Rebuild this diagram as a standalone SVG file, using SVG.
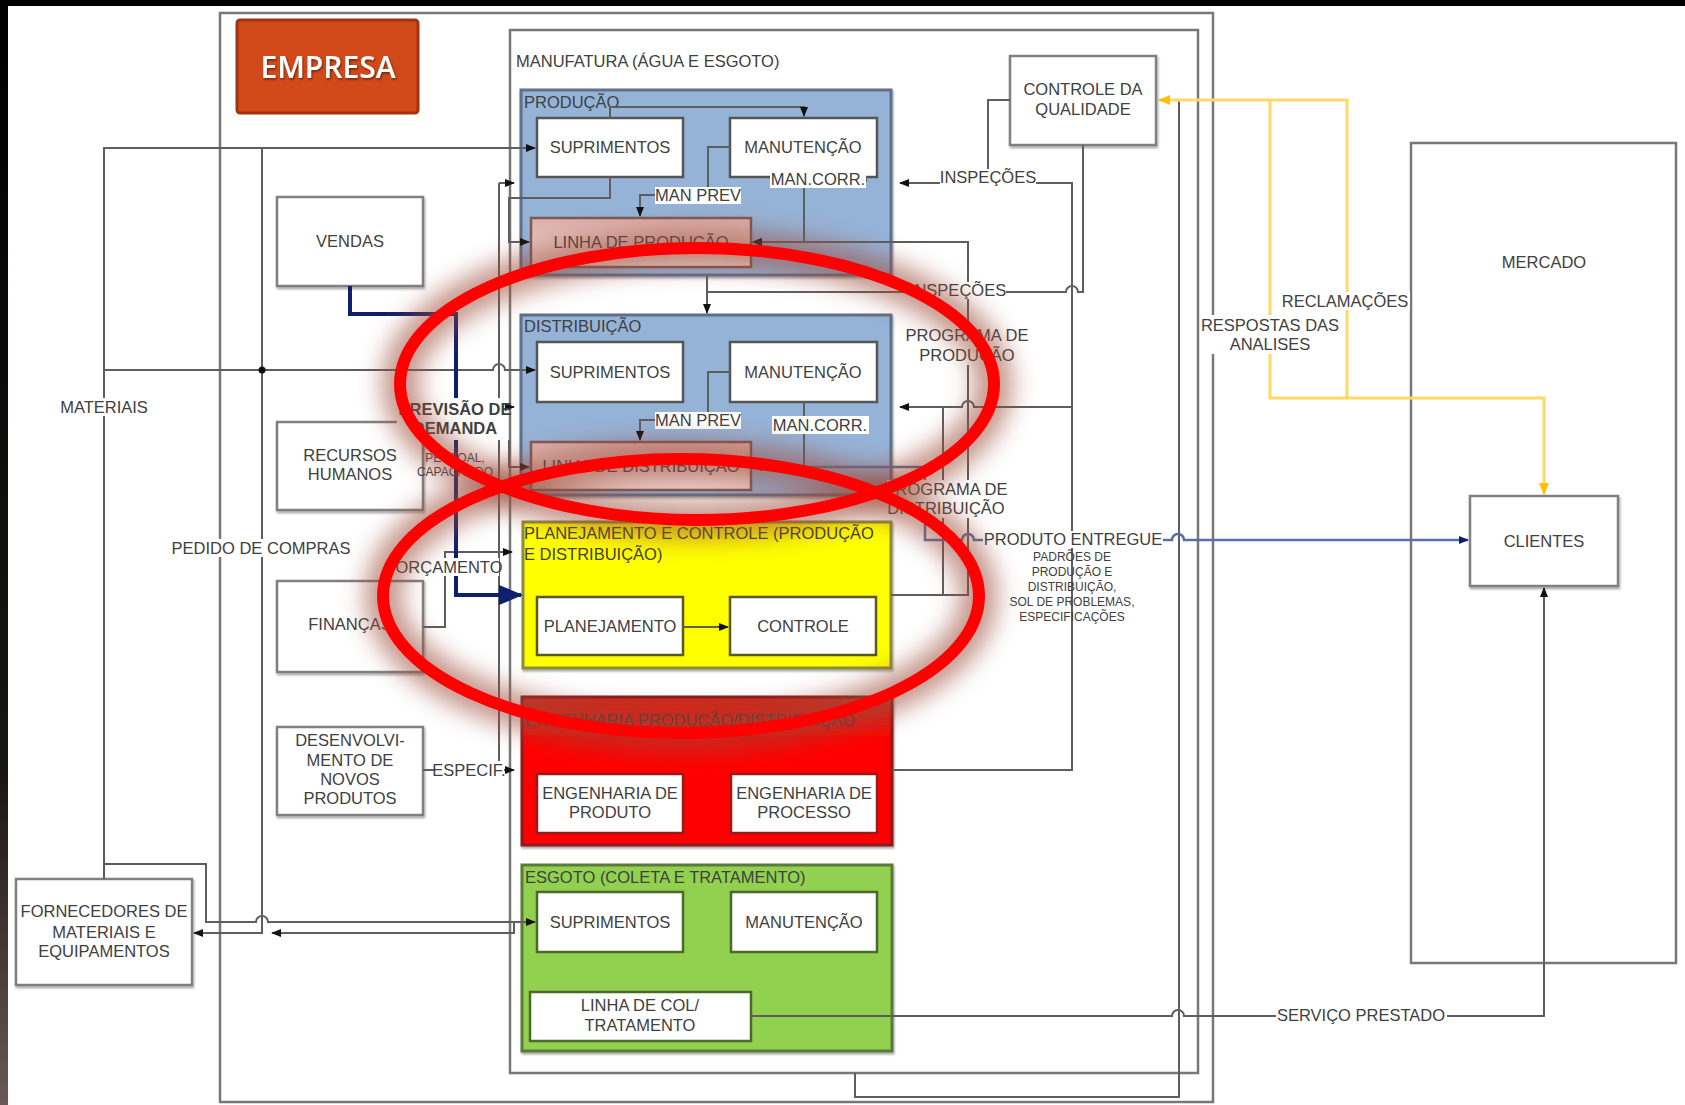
<svg xmlns="http://www.w3.org/2000/svg" width="1685" height="1105" viewBox="0 0 1685 1105">
<defs>
<style>
.t{font-family:"Liberation Sans",Arial,sans-serif;font-size:16.5px;fill:#404040}
.m{text-anchor:middle}
.s{font-size:12px}
.box{fill:#fff;stroke:#808080;stroke-width:2.5}
.frame{fill:none;stroke:#777;stroke-width:2.5}
.c{fill:none;stroke:#5e5e5e;stroke-width:2}
.bg{fill:#fff}
.ell{fill:none;stroke:#ff0000;stroke-width:12}
.glow{fill:none;stroke:#9b4a38;stroke-width:36;opacity:0.6}
</style>
<marker id="ah" markerUnits="userSpaceOnUse" markerWidth="10" markerHeight="10" refX="9" refY="5" orient="auto"><path d="M0,1 L10,5 L0,9 z" fill="#111"/></marker>
<marker id="ay" markerUnits="userSpaceOnUse" markerWidth="12" markerHeight="12" refX="11" refY="6" orient="auto"><path d="M0,1 L12,6 L0,11 z" fill="#ffc000"/></marker>
<marker id="an" markerUnits="userSpaceOnUse" markerWidth="10" markerHeight="10" refX="9" refY="5" orient="auto"><path d="M0,1 L10,5 L0,9 z" fill="#0e1f6b"/></marker>
<marker id="anb" markerUnits="userSpaceOnUse" markerWidth="24" markerHeight="24" refX="22" refY="12" orient="auto"><path d="M0,2 L24,12 L0,22 z" fill="#0e1f6b"/></marker>
<filter id="sh" x="-5%" y="-5%" width="110%" height="115%"><feDropShadow dx="1" dy="2" stdDeviation="1" flood-color="#000" flood-opacity="0.35"/></filter>
<filter id="blur" x="-20%" y="-30%" width="140%" height="160%"><feGaussianBlur stdDeviation="12"/></filter>
<filter id="tsh"><feDropShadow dx="1" dy="1.5" stdDeviation="1" flood-color="#000" flood-opacity="0.5"/></filter>
<linearGradient id="pink" x1="0" y1="0" x2="0" y2="1"><stop offset="0" stop-color="#dcaea8"/><stop offset="1" stop-color="#f2dcd8"/></linearGradient>
<linearGradient id="red" x1="0" y1="0" x2="0" y2="1"><stop offset="0" stop-color="#c8301e"/><stop offset="0.3" stop-color="#ff0000"/><stop offset="1" stop-color="#ff0000"/></linearGradient>
<linearGradient id="lft" x1="0" y1="0" x2="0" y2="1"><stop offset="0" stop-color="#000"/><stop offset="0.7" stop-color="#1a1515"/><stop offset="1" stop-color="#6a5855"/></linearGradient>
</defs>
<rect x="0" y="0" width="1685" height="1105" fill="#fff"/>
<rect x="0" y="0" width="1685" height="6" fill="#000"/>
<rect x="0" y="0" width="8" height="1105" fill="url(#lft)"/>

<!-- frames -->
<g id="empresa-frame"><rect class="frame" x="220" y="13" width="993" height="1089" stroke-width="3"/></g>
<g id="manufatura"><rect class="frame" x="510" y="30" width="688" height="1043" stroke="#8a8a8a"/>
<text class="t" x="516" y="67">MANUFATURA (ÁGUA E ESGOTO)</text></g>
<g id="mercado"><rect class="frame" x="1411" y="143" width="265" height="820" stroke="#707070"/>
<text class="t m" x="1544" y="268">MERCADO</text></g>

<g id="empresa"><rect x="237" y="20" width="181" height="93" rx="3" fill="#d2491a" stroke="#9e3412" stroke-width="3"/>
<text x="328" y="78" text-anchor="middle" font-family="'Open Sans',sans-serif" font-weight="600" font-size="30" fill="#fff" filter="url(#tsh)">EMPRESA</text></g>

<!-- left nodes -->
<g id="vendas"><rect class="box" x="277" y="197" width="146" height="89" filter="url(#sh)"/><text class="t m" x="350" y="247">VENDAS</text></g>
<g id="rh"><rect class="box" x="277" y="422" width="146" height="88" filter="url(#sh)"/><text class="t m" x="350" y="461">RECURSOS</text><text class="t m" x="350" y="480">HUMANOS</text></g>
<g id="financas"><rect class="box" x="277" y="581" width="146" height="91" filter="url(#sh)"/><text class="t m" x="350" y="630">FINANÇAS</text></g>
<g id="desenv"><rect class="box" x="277" y="727" width="146" height="88" filter="url(#sh)"/><text class="t m" x="350" y="746">DESENVOLVI-</text><text class="t m" x="350" y="766">MENTO DE</text><text class="t m" x="350" y="785">NOVOS</text><text class="t m" x="350" y="804">PRODUTOS</text></g>
<g id="fornecedores"><rect class="box" x="16" y="879" width="176" height="106" filter="url(#sh)"/><text class="t m" x="104" y="917">FORNECEDORES DE</text><text class="t m" x="104" y="938">MATERIAIS E</text><text class="t m" x="104" y="957">EQUIPAMENTOS</text></g>
<g id="controle-qualidade"><rect class="box" x="1010" y="56" width="146" height="89" filter="url(#sh)"/><text class="t m" x="1083" y="95">CONTROLE DA</text><text class="t m" x="1083" y="115">QUALIDADE</text></g>
<g id="clientes"><rect class="box" x="1470" y="496" width="148" height="90" stroke-width="3" filter="url(#sh)"/><text class="t m" x="1544" y="547">CLIENTES</text></g>

<!-- Producao -->
<g id="producao">
<rect x="521" y="90" width="370" height="185" fill="#95b3d7" stroke="#5f6f8a" stroke-width="3" filter="url(#sh)"/>
<text class="t" x="524" y="108" fill="#2f3f5f">PRODUÇÃO</text>
<rect x="537" y="118" width="146" height="59" fill="#fff" stroke="#555" stroke-width="2.5"/><text class="t m" x="610" y="153">SUPRIMENTOS</text>
<rect x="730" y="118" width="147" height="59" fill="#fff" stroke="#555" stroke-width="2.5"/><text class="t m" x="803" y="153">MANUTENÇÃO</text>
<rect x="531" y="218" width="220" height="49" fill="url(#pink)" stroke="#7a5a56" stroke-width="2.5"/><text class="t m" x="641" y="248" fill="#6e4a44">LINHA DE PRODUÇÃO</text>
</g>
<!-- Distribuicao -->
<g id="distribuicao">
<rect x="521" y="315" width="370" height="180" fill="#95b3d7" stroke="#5f6f8a" stroke-width="3" filter="url(#sh)"/>
<text class="t" x="524" y="332" fill="#2f3f5f">DISTRIBUIÇÃO</text>
<rect x="537" y="342" width="146" height="60" fill="#fff" stroke="#555" stroke-width="2.5"/><text class="t m" x="610" y="378">SUPRIMENTOS</text>
<rect x="730" y="342" width="147" height="60" fill="#fff" stroke="#555" stroke-width="2.5"/><text class="t m" x="803" y="378">MANUTENÇÃO</text>
<rect x="531" y="442" width="220" height="48" fill="url(#pink)" stroke="#7a5a56" stroke-width="2.5"/><text class="t m" x="641" y="472" fill="#6e4a44">LINHA DE DISTRIBUIÇÃO</text>
</g>
<!-- Planejamento -->
<g id="planejamento">
<rect x="523" y="522" width="368" height="146" fill="#ffff00" stroke="#8c8c3c" stroke-width="3" filter="url(#sh)"/>
<text class="t" x="524" y="539" fill="#4a4a20">PLANEJAMENTO E CONTROLE (PRODUÇÃO</text>
<text class="t" x="524" y="560" fill="#4a4a20">E DISTRIBUIÇÃO)</text>
<rect x="537" y="597" width="146" height="58" fill="#fff" stroke="#5a5a1a" stroke-width="2.5"/><text class="t m" x="610" y="632">PLANEJAMENTO</text>
<rect x="730" y="597" width="146" height="58" fill="#fff" stroke="#5a5a1a" stroke-width="2.5"/><text class="t m" x="803" y="632">CONTROLE</text>
</g>
<!-- Engenharia -->
<g id="engenharia">
<rect x="522" y="697" width="370" height="148" fill="url(#red)" stroke="#8b1a1a" stroke-width="3" filter="url(#sh)"/>
<text class="t" x="525" y="726" fill="#7a1414">ENGENHARIA PRODUÇÃO/DISTRIBUIÇÃO</text>
<rect x="537" y="774" width="146" height="59" fill="#fff" stroke="#9a1a1a" stroke-width="2.5"/><text class="t m" x="610" y="799">ENGENHARIA DE</text><text class="t m" x="610" y="818">PRODUTO</text>
<rect x="731" y="774" width="146" height="59" fill="#fff" stroke="#9a1a1a" stroke-width="2.5"/><text class="t m" x="804" y="799">ENGENHARIA DE</text><text class="t m" x="804" y="818">PROCESSO</text>
</g>
<!-- Esgoto -->
<g id="esgoto">
<rect x="522" y="865" width="370" height="186" fill="#92d050" stroke="#5a7a3a" stroke-width="3" filter="url(#sh)"/>
<text class="t" x="525" y="883" fill="#2f4a10">ESGOTO (COLETA E TRATAMENTO)</text>
<rect x="537" y="892" width="146" height="60" fill="#fff" stroke="#4a6a2a" stroke-width="2.5"/><text class="t m" x="610" y="928">SUPRIMENTOS</text>
<rect x="731" y="892" width="146" height="60" fill="#fff" stroke="#4a6a2a" stroke-width="2.5"/><text class="t m" x="804" y="928">MANUTENÇÃO</text>
<rect x="530" y="992" width="221" height="49" fill="#fff" stroke="#4a6a2a" stroke-width="2.5"/><text class="t m" x="640" y="1011">LINHA DE COL/</text><text class="t m" x="640" y="1031">TRATAMENTO</text>
</g>

<!-- connectors -->
<g id="connectors">
<path class="c" d="M104 879 V148 H535" marker-end="url(#ah)"/>
<path class="c" d="M104 370 H493 A6 6 0 0 1 505 370 H535" marker-end="url(#ah)"/>
<path class="c" d="M104 864 H206 V922 H256 A6 6 0 0 1 268 922 H535" marker-end="url(#ah)"/>
<path class="c" d="M514 922 V933 H272" marker-end="url(#ah)"/>
<path class="c" d="M262 148 V933 H194" marker-end="url(#ah)"/>
<circle cx="262" cy="370" r="3.5" fill="#111"/>
<path class="c" d="M499 183 V770"/>
<path class="c" d="M499 183 H514" marker-end="url(#ah)"/>
<path class="c" d="M499 407 H514" marker-end="url(#ah)"/>
<path class="c" d="M423 770 H514" marker-end="url(#ah)"/>
<path class="c" d="M423 627 H445 V552 H512" marker-end="url(#ah)"/>
<path class="c" d="M509 440 V467 H529" marker-end="url(#ah)"/>
<path class="c" d="M610 177 V198 H509 V242 H529" marker-end="url(#ah)"/>
<path class="c" d="M610 118 V107 H804 V116" marker-end="url(#ah)"/>
<path class="c" d="M730 147 H708 V195 H640 V216" marker-end="url(#ah)"/>
<path class="c" d="M866 177 V181 H804 V242 H753" marker-end="url(#ah)"/>
<path class="c" d="M891 595 H968 V242 H753" marker-end="url(#ah)"/>
<path class="c" d="M943 595 V407"/>
<path class="c" d="M1010 100 H988 V183 H900" marker-end="url(#ah)"/>
<path class="c" d="M892 770 H1072 V183 H988"/>
<path class="c" d="M1072 407 H974 A6 6 0 0 0 962 407 H900" marker-end="url(#ah)"/>
<path class="c" d="M1083 145 V292 H1078 A6 6 0 0 0 1066 292 H707 V313" marker-end="url(#ah)"/>
<path class="c" d="M707 275 V292"/>
<path class="c" d="M730 372 H708 V420 H640 V440" marker-end="url(#ah)"/>
<path class="c" d="M804 402 V467 H753" marker-end="url(#ah)"/>
<path class="c" d="M683 627 H728" marker-end="url(#ah)"/>
<path class="c" d="M751 1016 H1172 A6 6 0 0 1 1184 1016 H1544 V588" marker-end="url(#ah)"/>
<path class="c" d="M855 1073 V1097 H1179 V101"/>
<path fill="none" stroke="#5b6fa5" stroke-width="2.5" d="M753 467 H925 V540 H962 A6 6 0 0 1 974 540 H1172 A6 6 0 0 1 1184 540 H1468" marker-end="url(#an)"/>
<path fill="none" stroke="#0e1f6b" stroke-width="4" d="M350 286 V314 H456 V595 H521" marker-end="url(#anb)"/>
<path fill="none" stroke="#ffd966" stroke-width="3" d="M1175 100 H1347 V398 H1544 V494" marker-end="url(#ay)"/>
<path fill="none" stroke="#ffd966" stroke-width="3" d="M1270 100 V398 H1347"/>
<path fill="none" stroke="#ffd966" stroke-width="3" d="M1180 100 H1159" marker-end="url(#ay)"/>
</g>

<!-- connector labels -->
<g id="labels">
<rect class="bg" x="60" y="398" width="88" height="18"/><text class="t m" x="104" y="413">MATERIAIS</text>
<rect class="bg" x="171" y="539" width="181" height="18"/><text class="t m" x="261" y="554">PEDIDO DE COMPRAS</text>
<rect class="bg" x="400" y="558" width="99" height="18"/><text class="t m" x="449" y="573">ORÇAMENTO</text>
<rect class="bg" x="434" y="761" width="70" height="18"/><text class="t m" x="469" y="776">ESPECIF.</text>
<rect class="bg" x="397" y="398" width="108" height="42"/>
<text class="t m" x="455" y="415" font-weight="bold" fill="#1f3c7a">PREVISÃO DE</text>
<text class="t m" x="455" y="434" font-weight="bold" fill="#1f3c7a">DEMANDA</text>
<text class="t s m" x="455" y="462" fill="#8a8a8a">PESSOAL,</text>
<text class="t s m" x="455" y="476" fill="#8a8a8a">CAPACITADO</text>
<rect class="bg" x="655" y="187" width="86" height="17"/><text class="t m" x="698" y="201">MAN PREV</text>
<rect class="bg" x="770" y="171" width="96" height="17"/><text class="t m" x="818" y="185">MAN.CORR.</text>
<rect class="bg" x="655" y="412" width="86" height="17"/><text class="t m" x="698" y="426">MAN PREV</text>
<rect class="bg" x="772" y="416" width="97" height="18"/><text class="t m" x="820" y="431">MAN.CORR.</text>
<rect class="bg" x="940" y="169" width="96" height="17"/><text class="t m" x="988" y="183">INSPEÇÕES</text>
<rect class="bg" x="910" y="282" width="96" height="17"/><text class="t m" x="958" y="296">INSPEÇÕES</text>
<rect class="bg" x="905" y="326" width="125" height="39"/><text class="t m" x="967" y="341">PROGRAMA DE</text><text class="t m" x="967" y="361">PRODUÇÃO</text>
<rect class="bg" x="887" y="480" width="118" height="38"/><text class="t m" x="946" y="495">PROGRAMA DE</text><text class="t m" x="946" y="514">DISTRIBUIÇÃO</text>
<rect class="bg" x="983" y="531" width="180" height="17"/><text class="t m" x="1073" y="545">PRODUTO ENTREGUE</text>
<text class="t s m" x="1072" y="561">PADRÕES DE</text>
<text class="t s m" x="1072" y="576">PRODUÇÃO E</text>
<text class="t s m" x="1072" y="591">DISTRIBUIÇÃO,</text>
<text class="t s m" x="1072" y="606">SOL DE PROBLEMAS,</text>
<text class="t s m" x="1072" y="621">ESPECIFICAÇÕES</text>
<rect class="bg" x="1281" y="292" width="129" height="18"/><text class="t m" x="1345" y="307">RECLAMAÇÕES</text>
<rect class="bg" x="1201" y="315" width="139" height="39"/><text class="t m" x="1270" y="331">RESPOSTAS DAS</text><text class="t m" x="1270" y="350">ANALISES</text>
<rect class="bg" x="1276" y="1006" width="171" height="18"/><text class="t m" x="1361" y="1021">SERVIÇO PRESTADO</text>
</g>

<!-- highlight ellipses -->
<g id="highlights">
<ellipse class="glow" cx="697" cy="384" rx="297" ry="136" filter="url(#blur)"/>
<ellipse class="glow" cx="681" cy="596" rx="298" ry="137" filter="url(#blur)"/>
<ellipse class="ell" cx="697" cy="384" rx="297" ry="136"/>
<ellipse class="ell" cx="681" cy="596" rx="298" ry="137"/>
</g>
</svg>
